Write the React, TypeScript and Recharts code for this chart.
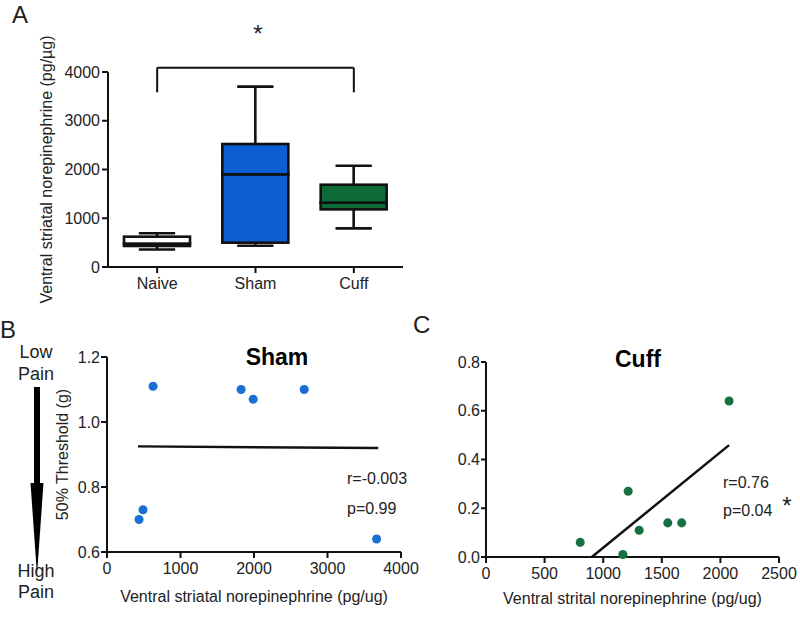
import React from 'react';
import {
  BarChart, Bar, XAxis, YAxis, ReferenceLine, Cell,
  ScatterChart, Scatter,
} from 'recharts';

// ---------- Panel A data (box plots) ----------
const categories = ['Naive', 'Sham', 'Cuff'];
const boxMin = [360, 437, 793];
const boxQ1 = [431, 499, 1182];
const boxMedian = [480, 1901, 1319];
const boxQ3 = [622, 2523, 1688];
const boxMax = [691, 3699, 2078];
const boxColors = ['#ffffff', '#0b5fd3', '#0d6b37'];
const yTicksA = [0, 1000, 2000, 3000, 4000];
const bracketY = [4089, 3583];

// ---------- Panel B data (Sham scatter) ----------
const shamX = [627, 1825, 1989, 2683, 490, 436, 3668];
const shamY = [1.11, 1.1, 1.07, 1.1, 0.73, 0.7, 0.64];
const shamFitX = [422, 3691];
const shamFitY = [0.925, 0.92];
const xTicksB = [0, 1000, 2000, 3000, 4000];
const yTicksB = [0.6, 0.8, 1.0, 1.2];

// ---------- Panel C data (Cuff scatter) ----------
const cuffX = [804, 1168, 1213, 1307, 1551, 1670, 2074];
const cuffY = [0.06, 0.01, 0.27, 0.11, 0.14, 0.14, 0.64];
const cuffFitX = [903, 2074];
const cuffFitY = [0.0, 0.459];
const xTicksC = [0, 500, 1000, 1500, 2000, 2500];
const yTicksC = [0, 0.2, 0.4, 0.6, 0.8];

const boxData = categories.map((name, i) => ({
  name,
  base: boxMin[i],
  lowW: boxQ1[i] - boxMin[i],
  lowB: boxMedian[i] - boxQ1[i],
  upB: boxQ3[i] - boxMedian[i],
  upW: boxMax[i] - boxQ3[i],
}));

const shamPts = shamX.map((x, i) => ({ x, y: shamY[i] }));
const shamFit = shamFitX.map((x, i) => ({ x, y: shamFitY[i] }));
const cuffPts = cuffX.map((x, i) => ({ x, y: cuffY[i] }));
const cuffFit = cuffFitX.map((x, i) => ({ x, y: cuffFitY[i] }));

const INK = '#111';
const TXT = '#222';
const FONT = 'Liberation Sans, Arial, sans-serif';
const SW = 2.6;

const Nothing = () => <g />;

const LowWhisker = (p: any) => {
  const cx = p.x + p.width / 2;
  const cap = p.width * 0.55;
  return (
    <g>
      <line x1={cx} x2={cx} y1={p.y} y2={p.y + p.height} stroke={INK} strokeWidth={SW} />
      <line x1={cx - cap / 2} x2={cx + cap / 2} y1={p.y + p.height} y2={p.y + p.height} stroke={INK} strokeWidth={SW} />
    </g>
  );
};

const UpWhisker = (p: any) => {
  const cx = p.x + p.width / 2;
  const cap = p.width * 0.55;
  return (
    <g>
      <line x1={cx} x2={cx} y1={p.y} y2={p.y + p.height} stroke={INK} strokeWidth={SW} />
      <line x1={cx - cap / 2} x2={cx + cap / 2} y1={p.y} y2={p.y} stroke={INK} strokeWidth={SW} />
    </g>
  );
};

const BoxPart = (p: any) => (
  <rect x={p.x} y={p.y} width={p.width} height={Math.max(p.height, 0)} fill={p.fill} stroke={INK} strokeWidth={SW} />
);

const tickStyle = { fontSize: 16, fill: TXT, fontFamily: FONT };
const axisLine = { stroke: INK, strokeWidth: 2 };
const tickLine = { stroke: INK, strokeWidth: 2 };

function PanelA() {
  return (
    <BarChart
      width={420}
      height={312}
      data={boxData}
      margin={{ top: 72, right: 17, bottom: 15, left: 0 }}
      barCategoryGap={0}
    >
      <XAxis
        dataKey="name"
        type="category"
        tick={tickStyle}
        axisLine={axisLine}
        tickLine={tickLine}
        tickSize={6}
        tickMargin={5}
        height={30}
      />
      <YAxis
        type="number"
        domain={[0, 4000]}
        ticks={yTicksA}
        tick={tickStyle}
        axisLine={axisLine}
        tickLine={tickLine}
        tickSize={6}
        tickMargin={2}
        width={108}
        interval={0}
        label={{
          value: 'Ventral striatal norepinephrine (pg/µg)',
          angle: -90,
          position: 'insideLeft',
          offset: 46,
          fontSize: 16,
          fill: TXT,
          style: { textAnchor: 'middle', fontSize: 16, fill: TXT, fontFamily: FONT },
        }}
      />
      <Bar dataKey="base" stackId="a" barSize={66} shape={Nothing} isAnimationActive={false} />
      <Bar dataKey="lowW" stackId="a" barSize={66} shape={LowWhisker} isAnimationActive={false} />
      <Bar dataKey="lowB" stackId="a" barSize={66} shape={BoxPart} isAnimationActive={false}>
        {boxData.map((d, i) => <Cell key={d.name} fill={boxColors[i]} />)}
      </Bar>
      <Bar dataKey="upB" stackId="a" barSize={66} shape={BoxPart} isAnimationActive={false}>
        {boxData.map((d, i) => <Cell key={d.name} fill={boxColors[i]} />)}
      </Bar>
      <Bar dataKey="upW" stackId="a" barSize={66} shape={UpWhisker} isAnimationActive={false} />
      <ReferenceLine
        segment={[{ x: categories[0], y: bracketY[0] }, { x: categories[2], y: bracketY[0] }]}
        stroke={INK}
        strokeWidth={2}
        ifOverflow="visible"
      />
      <ReferenceLine
        segment={[{ x: categories[0], y: bracketY[0] }, { x: categories[0], y: bracketY[1] }]}
        stroke={INK}
        strokeWidth={2}
        ifOverflow="visible"
      />
      <ReferenceLine
        segment={[{ x: categories[2], y: bracketY[0] }, { x: categories[2], y: bracketY[1] }]}
        stroke={INK}
        strokeWidth={2}
        ifOverflow="visible"
      />
    </BarChart>
  );
}

function PanelB() {
  return (
    <ScatterChart width={420} height={318} margin={{ top: 57, right: 19, bottom: 10, left: 0 }}>
      <XAxis
        type="number"
        dataKey="x"
        domain={[0, 4000]}
        ticks={xTicksB}
        interval={0}
        tick={tickStyle}
        axisLine={axisLine}
        tickLine={tickLine}
        tickSize={6}
        tickMargin={5}
        height={56}
        label={{
          value: 'Ventral striatal norepinephrine (pg/ug)',
          position: 'insideBottom',
          offset: 6,
          fontSize: 16,
          fill: TXT,
          style: { fontSize: 16, fill: TXT, fontFamily: FONT },
        }}
      />
      <YAxis
        type="number"
        dataKey="y"
        domain={[0.6, 1.2]}
        ticks={yTicksB}
        interval={0}
        tickFormatter={(v: number) => v.toFixed(1)}
        tick={tickStyle}
        axisLine={axisLine}
        tickLine={tickLine}
        tickSize={6}
        tickMargin={1}
        width={107}
        label={{
          value: '50% Threshold (g)',
          angle: -90,
          position: 'insideLeft',
          offset: 62,
          fontSize: 16,
          fill: TXT,
          style: { textAnchor: 'middle', fontSize: 16, fill: TXT, fontFamily: FONT },
        }}
      />
      <Scatter data={shamFit} line={{ stroke: INK, strokeWidth: 2.5 }} shape={Nothing} isAnimationActive={false} />
      <Scatter data={shamPts} fill="#1a6fd4" isAnimationActive={false} />
    </ScatterChart>
  );
}

function PanelC() {
  return (
    <ScatterChart width={400} height={318} margin={{ top: 62, right: 21, bottom: 10, left: 0 }}>
      <XAxis
        type="number"
        dataKey="x"
        domain={[0, 2500]}
        ticks={xTicksC}
        interval={0}
        tick={tickStyle}
        axisLine={axisLine}
        tickLine={tickLine}
        tickSize={6}
        tickMargin={5}
        height={51}
        label={{
          value: 'Ventral strital norepinephrine (pg/ug)',
          position: 'insideBottom',
          offset: 4,
          fontSize: 16,
          fill: TXT,
          style: { fontSize: 16, fill: TXT, fontFamily: FONT },
        }}
      />
      <YAxis
        type="number"
        dataKey="y"
        domain={[0, 0.8]}
        ticks={yTicksC}
        interval={0}
        tickFormatter={(v: number) => v.toFixed(1)}
        tick={tickStyle}
        axisLine={axisLine}
        tickLine={tickLine}
        tickSize={5}
        tickMargin={1}
        width={86}
      />
      <Scatter data={cuffFit} line={{ stroke: INK, strokeWidth: 2.5 }} shape={Nothing} isAnimationActive={false} />
      <Scatter data={cuffPts} fill="#16703f" isAnimationActive={false} />
    </ScatterChart>
  );
}

export default function App() {
  const t = { fontFamily: FONT, fill: TXT } as const;
  return (
    <div style={{ position: 'absolute', left: 0, top: 0, width: 800, height: 618, background: '#fff', fontFamily: FONT }}>
      <div style={{ position: 'absolute', left: 0, top: 300 }}><PanelB /></div>
      <div style={{ position: 'absolute', left: 400, top: 300 }}><PanelC /></div>
      <div style={{ position: 'absolute', left: 0, top: 0 }}><PanelA /></div>
      <svg width={800} height={618} style={{ position: 'absolute', left: 0, top: 0, pointerEvents: 'none' }}>
        <text x={12} y={23} fontSize={24} {...t}>A</text>
        <text x={258} y={42} fontSize={24} textAnchor="middle" {...t}>*</text>
        <text x={0} y={338} fontSize={24} {...t}>B</text>
        <text x={413} y={333} fontSize={24} {...t}>C</text>
        <text x={36} y={358} fontSize={18} textAnchor="middle" {...t}>Low</text>
        <text x={36} y={380} fontSize={18} textAnchor="middle" {...t}>Pain</text>
        <rect x={34} y={387} width={6} height={97} fill="#000" />
        <polygon points="30.5,483 43.5,483 37,575" fill="#000" />
        <text x={36} y={577} fontSize={18} textAnchor="middle" {...t}>High</text>
        <text x={36} y={598} fontSize={18} textAnchor="middle" {...t}>Pain</text>
        <text x={277} y={365} fontSize={23} fontWeight="bold" textAnchor="middle" {...t} fill="#000">Sham</text>
        <text x={638} y={367} fontSize={23} fontWeight="bold" textAnchor="middle" {...t} fill="#000">Cuff</text>
        <text x={347} y={484} fontSize={16} {...t}>r=-0.003</text>
        <text x={347} y={514} fontSize={16} {...t}>p=0.99</text>
        <text x={723} y={488} fontSize={16} {...t}>r=0.76</text>
        <text x={723} y={516} fontSize={16} {...t}>p=0.04</text>
        <text x={787} y={514} fontSize={24} textAnchor="middle" {...t}>*</text>
      </svg>
    </div>
  );
}
